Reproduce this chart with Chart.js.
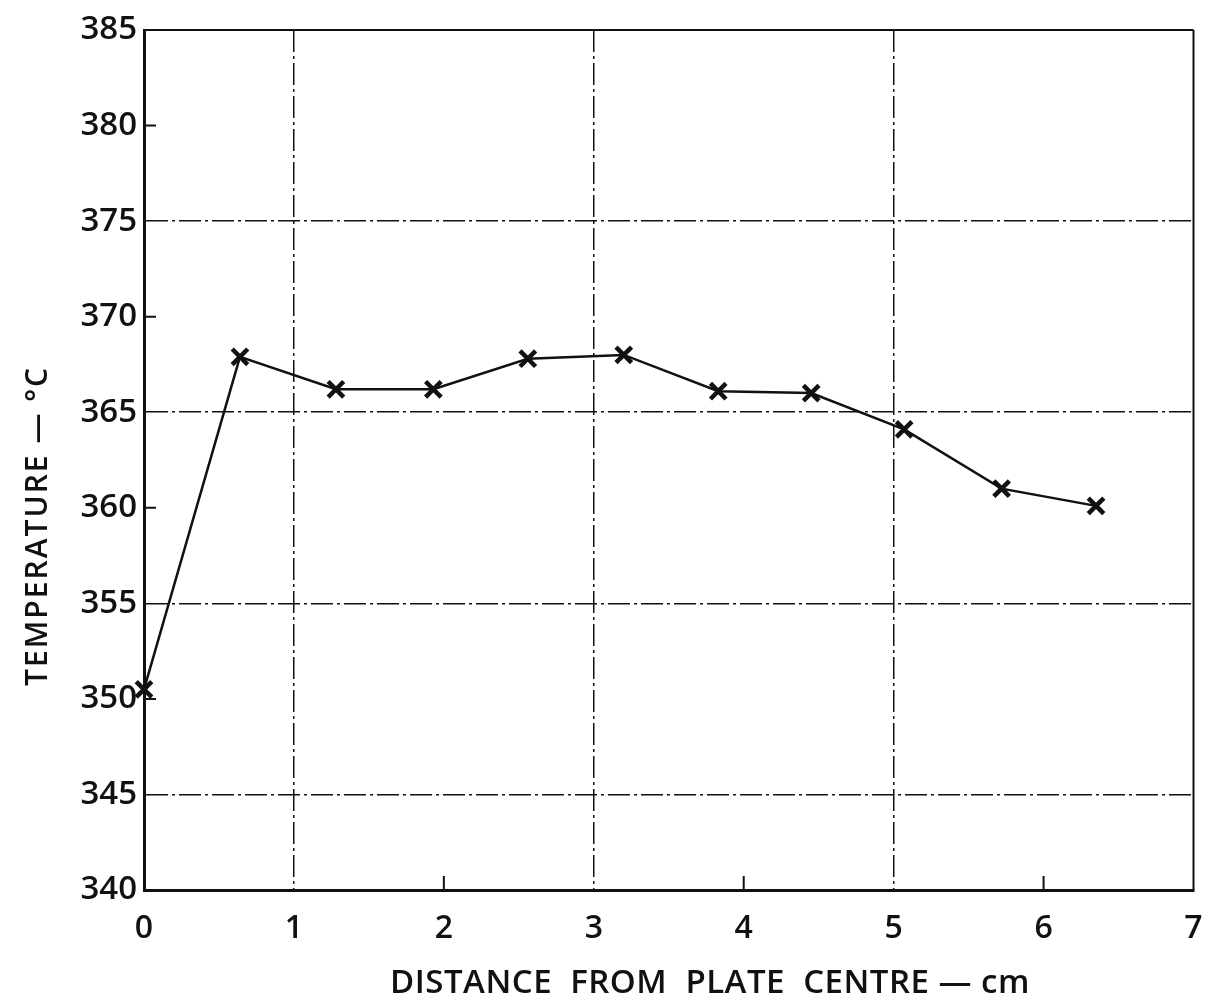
<!DOCTYPE html>
<html><head><meta charset="utf-8">
<script src="https://cdn.jsdelivr.net/npm/chart.js@4.4.0/dist/chart.umd.min.js"></script>
<style>html,body{margin:0;padding:0;background:#fff}#wrap{width:1209px;height:1007px}</style>
</head><body><div id="wrap"><canvas id="c" width="1209" height="1007"></canvas></div>
<script>
const distances = [0, 0.64, 1.28, 1.93, 2.56, 3.2, 3.83, 4.45, 5.07, 5.72, 6.35];
const temperatures = [350.5, 367.9, 366.2, 366.2, 367.8, 368.0, 366.1, 366.0, 364.1, 361.0, 360.1];
const xMin = 0, xMax = 7, xStep = 1;
const yMin = 340, yMax = 385, yStep = 5;
const xGridValues = [1, 3, 5];
const yGridValues = [345, 355, 365, 375];
const xMinorTicks = [2, 4, 6];
const yMinorTicks = [350, 360, 370, 380];
const xTitle = 'DISTANCE  FROM  PLATE  CENTRE \u2014 cm';
const yTitle = 'TEMPERATURE \u2014 \u00B0C';

const INK = '#111';
const FONT = '"Open Sans", "DejaVu Sans", sans-serif';

const framePlugin = {
  id: 'frame',
  afterDraw(chart) {
    const ctx = chart.ctx, a = chart.chartArea;
    const xs = chart.scales.x, ys = chart.scales.y;
    ctx.save();
    ctx.strokeStyle = INK;
    ctx.lineWidth = 2;
    ctx.beginPath();
    ctx.moveTo(a.left, a.top); ctx.lineTo(a.right, a.top);
    ctx.moveTo(a.right, a.top); ctx.lineTo(a.right, a.bottom);
    ctx.stroke();
    ctx.beginPath();
    yMinorTicks.forEach(v => { const y = ys.getPixelForValue(v); ctx.moveTo(a.left, y); ctx.lineTo(a.left + 12, y); });
    xMinorTicks.forEach(v => { const x = xs.getPixelForValue(v); ctx.moveTo(x, a.bottom); ctx.lineTo(x, a.bottom - 14); });
    ctx.stroke();
    ctx.fillStyle = INK;
    ctx.textAlign = 'center';
    ctx.textBaseline = 'middle';
    ctx.font = '600 33px ' + FONT;
    ctx.letterSpacing = '0.5px';
    ctx.fillText(xTitle, 710, 984);
    ctx.font = '600 30px ' + FONT;
    ctx.letterSpacing = '2px';
    ctx.translate(38, 526);
    ctx.rotate(-Math.PI / 2);
    ctx.fillText(yTitle, 0, 0);
    ctx.restore();
  }
};

new Chart(document.getElementById('c'), {
  type: 'line',
  data: {
    datasets: [{
      data: distances.map((d, i) => ({ x: d, y: temperatures[i] })),
      borderColor: INK,
      borderWidth: 2.5,
      pointStyle: 'crossRot',
      pointRadius: 11,
      pointBorderWidth: 4.5,
      pointBorderColor: INK,
      tension: 0,
      clip: false
    }]
  },
  options: {
    responsive: false,
    devicePixelRatio: 1,
    animation: false,
    layout: { padding: { top: 30, right: 11, left: 0, bottom: 0 } },
    plugins: { legend: { display: false }, tooltip: { enabled: false } },
    scales: {
      x: {
        type: 'linear', min: xMin, max: xMax,
        afterFit: s => { s.height = 117; s.paddingLeft = 0; s.paddingRight = 0; },
        ticks: { stepSize: xStep, color: INK, padding: 20, font: { family: FONT, size: 32, weight: '600' } },
        grid: {
          drawTicks: false, lineWidth: 1.5,
          color: c => xGridValues.includes(c.tick && c.tick.value) ? INK : 'rgba(0,0,0,0)'
        },
        border: { display: true, color: INK, width: 3, dash: [22, 4, 3, 4] }
      },
      y: {
        type: 'linear', min: yMin, max: yMax,
        afterFit: s => { s.width = 144; s.paddingTop = 0; s.paddingBottom = 0; },
        ticks: { stepSize: yStep, color: INK, padding: 7, font: { family: FONT, size: 33, weight: '600' } },
        grid: {
          drawTicks: false, lineWidth: 1.5,
          color: c => yGridValues.includes(c.tick && c.tick.value) ? INK : 'rgba(0,0,0,0)'
        },
        border: { display: true, color: INK, width: 3, dash: [22, 4, 3, 4] }
      }
    }
  },
  plugins: [framePlugin]
});
</script></body></html>
